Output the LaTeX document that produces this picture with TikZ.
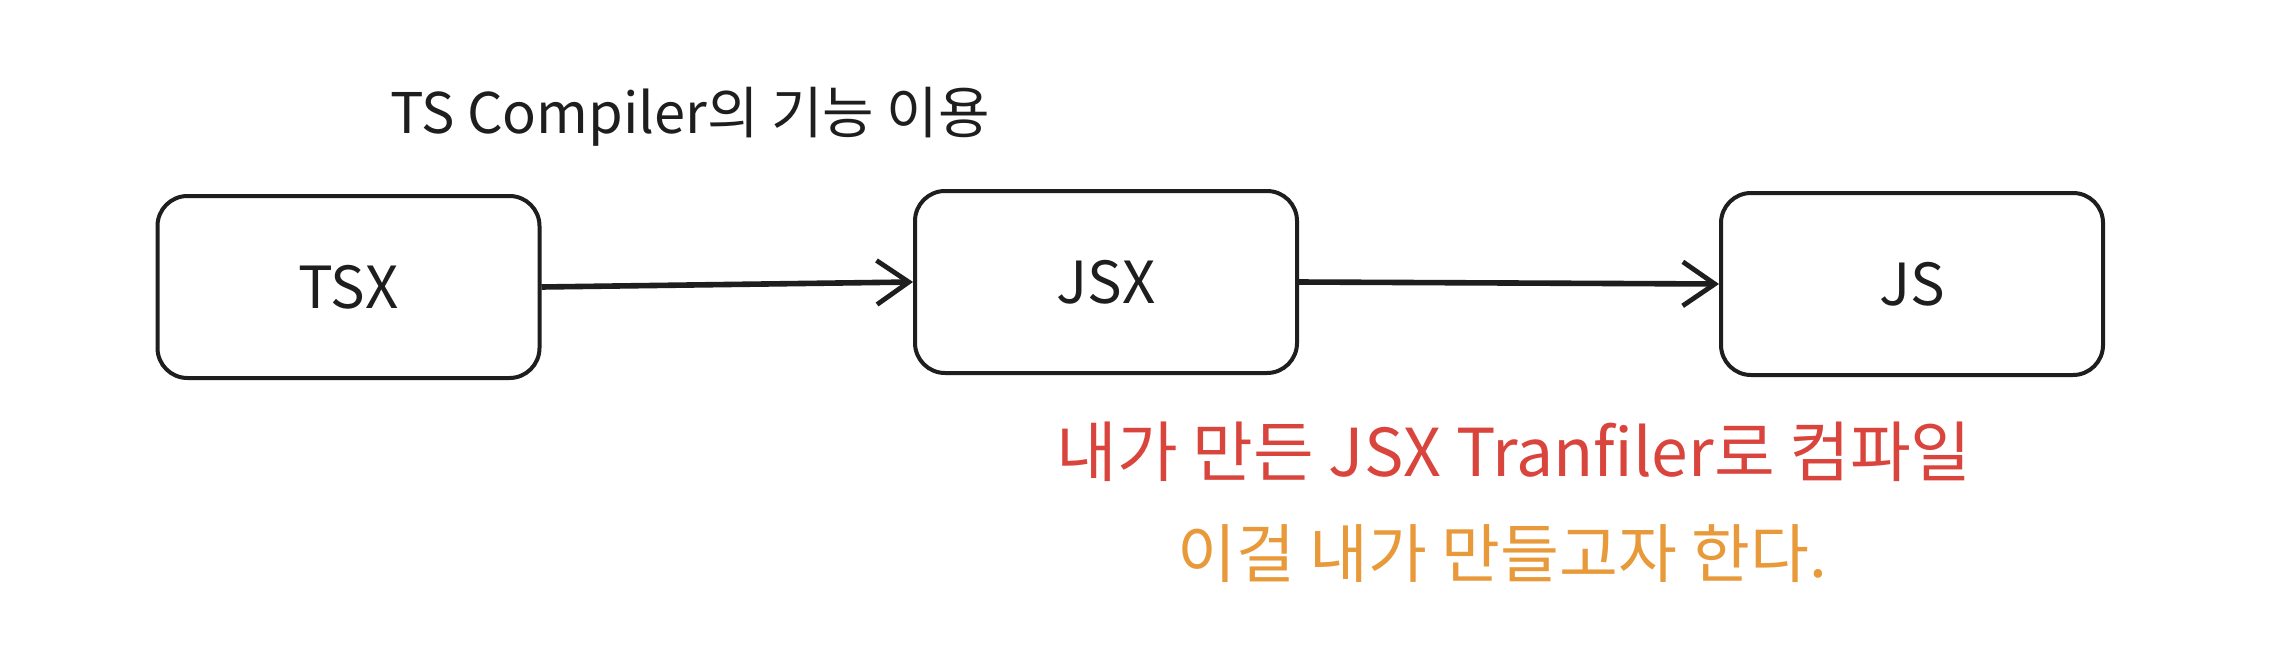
\documentclass[tikz,border=0pt]{standalone}
\usepackage{fontspec}
\setmainfont{Noto Sans CJK KR}
\usetikzlibrary{arrows.meta}
\definecolor{inkred}{HTML}{D9453C}
\definecolor{inkorange}{HTML}{E8993A}
\definecolor{ink}{HTML}{1E1E1E}
\tikzset{
  box/.style={draw=ink, line width=2pt, rounded corners=15pt, minimum width=191pt, minimum height=91pt, inner sep=0pt, font=\fontsize{29}{33}\selectfont, text=ink},
  conn/.style={draw=ink, line width=2.8pt, -{Straight Barb[length=16pt,width=22pt,line width=2.4pt]}},
  label/.style={inner sep=0pt, anchor=center}
}
\begin{document}
\begin{tikzpicture}[x=0.5pt,y=-0.5pt]
\useasboundingbox (0,0) rectangle (2278,664);
\fill[white] (0,0) rectangle (2278,664);
\node[label, text=ink, font=\fontsize{28}{32}\selectfont] (title) at (690,117) {TS Compiler의 기능 이용};
\node[box] (tsx) at (348.5,287) {TSX};
\node[box] (jsx) at (1106,282) {JSX};
\node[box] (js) at (1912,284) {JS};
\draw[conn] (tsx.east) -- (jsx.west);
\draw[conn] (jsx.east) -- (js.west);
\node[label, text=inkred, font=\fontsize{33}{38}\selectfont] (red) at (1514,452) {내가 만든 JSX Tranfiler로 컴파일};
\node[label, text=inkorange, font=\fontsize{32}{37}\selectfont] (orange) at (1502,554) {이걸 내가 만들고자 한다.};
\end{tikzpicture}
\end{document}
